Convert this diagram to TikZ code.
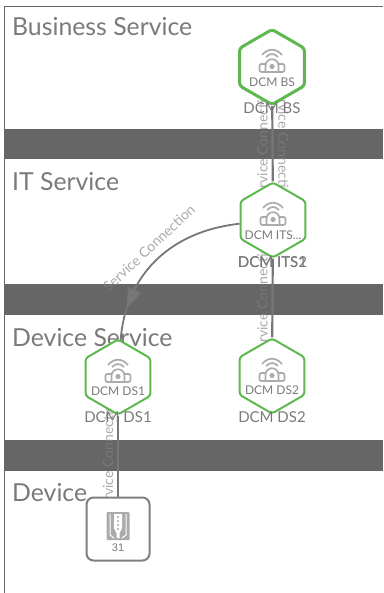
\documentclass[tikz,border=0pt]{standalone}
\usepackage{fontspec}
\setmainfont{Lato}
\newfontfamily\countfont{Liberation Sans}
\usepackage{xcolor}
\usetikzlibrary{positioning,shapes.geometric,backgrounds}
\definecolor{BandGray}{HTML}{666666}
\definecolor{TitleGray}{HTML}{7A7A7A}
\definecolor{LinkGray}{HTML}{777777}
\definecolor{IconGray}{HTML}{ABABAB}
\definecolor{HexGreen}{HTML}{5DB84E}
\definecolor{EdgeGray}{HTML}{808080}

\begin{document}
\begin{tikzpicture}[x=1pt,y=-1pt,
                      hexnode/.style={draw=HexGreen, line width=2pt, fill=white, rounded corners=3pt,
                                      regular polygon, regular polygon sides=6, regular polygon rotate=30,
                                      inner sep=0pt, minimum size=75pt},
                      devnode/.style={draw=EdgeGray, line width=2pt, fill=white, rounded corners=7pt,
                                      minimum width=63pt, minimum height=63pt, inner sep=0pt},
                      band/.style={fill=BandGray, inner sep=0pt, minimum width=379pt, anchor=west},
                      title/.style={text=TitleGray, font=\fontsize{24.8}{26}\selectfont, anchor=west, inner sep=0pt},
                      inname/.style={text=TitleGray, font=\fontsize{12}{14}\selectfont, inner sep=0pt},
                      outname/.style={text=TitleGray, font=\fontsize{15}{17}\selectfont, inner sep=0pt},
                      link/.style={draw=LinkGray, line width=2.2pt},
                      linklabel/.style={text=EdgeGray, text opacity=0.67, font=\fontsize{14}{17}\selectfont, inner sep=0pt},
                      wifi/.pic={
                        \draw[IconGray, line width=1.7pt] (-10,-12) .. controls (-4,-19) and (4,-19) .. (10,-12);
                        \draw[IconGray, line width=1.7pt] (-6,-10) .. controls (-2,-14) and (2,-14) .. (6,-10);
                        \draw[IconGray, line width=1.7pt] (-6.5,5) -- (-6.5,-1) .. controls (-6.5,-10) and (6.5,-10) .. (6.5,-1) -- (6.5,5) -- cycle;
                        \draw[IconGray, line width=1.7pt, rounded corners=2pt] (-7,-3) -- (-12.5,-3) -- (-12.5,5) -- (-7,5);
                        \draw[IconGray, line width=1.7pt, rounded corners=2pt] (7,-3) -- (12.5,-3) -- (12.5,5) -- (7,5);
                        \fill[IconGray] (0,-0.5) circle (2.6);
                      },
                      rack/.pic={
                        \fill[IconGray, rounded corners=1pt] (-11.5,-14) rectangle (11.5,14);
                        \draw[white, line width=1pt] (-8,-12) -- (-8,9) -- (-4,12);
                        \draw[white, line width=1pt] (8,-12) -- (8,9) -- (4,12);
                        \fill[white] (-4,-12) -- (4,-12) -- (4,2) -- (1.5,7) -- (1.5,12) -- (-1.5,12) -- (-1.5,7) -- (-4,2) -- cycle;
                        \foreach \dy in {-9,-5,-1,3} \fill[IconGray] (0,\dy) circle (1.2);
                      }]
  \useasboundingbox (0,0) rectangle (383,593);

  \node[hexnode, line width=3pt] (bs) at (272,67) {};
  \node[hexnode] (its) at (273,220) {};
  \node[hexnode] (ds1) at (118,377) {};
  \node[hexnode] (ds2) at (272,376) {};
  \node[devnode] (dev) at (118,529) {};

  \pic at (bs.center) {wifi};
  \pic at (its.center) {wifi};
  \pic at (ds1.center) {wifi};
  \pic at (ds2.center) {wifi};
  \pic at (118,526) {rack};

  \node[inname] (bsin) at (272,82) {DCM BS};
  \node[inname] (itsin) at (273,235) {DCM ITS...};
  \node[inname] (ds1in) at (118,391) {DCM DS1};
  \node[inname] (ds2in) at (272,390) {DCM DS2};
  \node[inner sep=0pt, text=TitleGray, font=\countfont\fontsize{11}{13}\selectfont] (devin) at (118,548) {31};

  \node[outname] (bsout) at (272,108) {DCM BS};
  \node[outname] (itsouta) at (272.5,262) {DCM ITS1};
  \node[outname] (itsoutb) at (272.5,262) {DCM ITS2};
  \node[outname] (ds1out) at (118,417) {DCM DS1};
  \node[outname] (ds2out) at (272,417) {DCM DS2};

  \begin{pgfonlayer}{background}
    \node[title] (tbs) at (12,27) {Business Service};
    \node[title] (tits) at (12,182) {IT Service};
    \node[title] (tds) at (12,338) {Device Service};
    \node[title] (tdev) at (12,493) {Device};
    \node[band, minimum height=30pt] (banda) at (4,144.5) {};
    \node[band, minimum height=31pt] (bandb) at (4,299.5) {};
    \node[band, minimum height=31pt] (bandc) at (4,455.5) {};
    \draw[BandGray, line width=0.8pt] (383,6.5) coordinate (edgeright) -- (4.5,6.5) coordinate (edgetop) -- (4.5,593) coordinate (edgebot);
    \draw[link] (bs) -- (its);
    \draw[link] (its) -- (ds2);
    \draw[link] (ds1) -- (dev);
    \draw[link, line width=1.8pt] (its) .. controls (165,232) and (125,280) .. (ds1);
    \fill[LinkGray] (128,287) -- (141,293) -- (127,308) -- cycle;
    \path (bs) -- (its) node[midway, xshift=-10pt, rotate=90, linklabel] (lba) {Service Connection};
    \path (bs) -- (its) node[midway, xshift=11pt, rotate=-90, linklabel] (lbb) {Service Connection};
    \path (its) -- (ds2) node[midway, xshift=-10pt, rotate=90, linklabel] (lbc) {Service Connection};
    \path (ds1) -- (dev) node[midway, xshift=-10pt, rotate=90, linklabel] (lbd) {Service Connection};
    \node[linklabel, rotate=43] (lbe) at (149,248) {Service Connection};
  \end{pgfonlayer}
\end{tikzpicture}
\end{document}
